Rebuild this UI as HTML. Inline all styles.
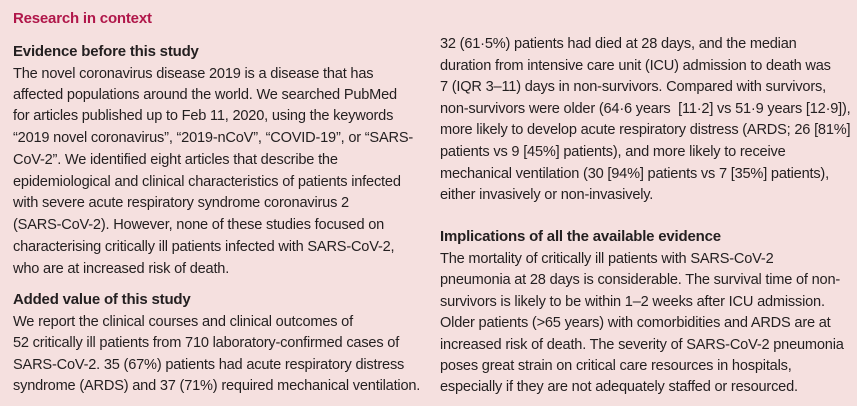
<!DOCTYPE html>
<html><head><meta charset="utf-8"><style>
html,body{margin:0;padding:0}
body{width:857px;height:406px;background:#f5e0df;position:relative;overflow:hidden;font-family:"Liberation Sans",sans-serif;color:#231f20}
.l{position:absolute;white-space:nowrap;font-size:14.6px;letter-spacing:-0.2px;line-height:18px}
.h{font-weight:bold;font-size:15px}
.t{color:#b0174a;font-weight:bold;font-size:15px}
</style></head><body>
<div class="l t" style="left:13px;top:10px">Research in context</div>

<div>
<div class="l h" style="left:13px;top:43px">Evidence before this study</div>
<div class="l" style="left:13px;top:65px">The novel coronavirus disease 2019 is a disease that has</div>
<div class="l" style="left:13px;top:86px">affected populations around the world. We searched PubMed</div>
<div class="l" style="left:13px;top:107px">for articles published up to Feb 11, 2020, using the keywords</div>
<div class="l" style="left:13px;top:129px">“2019 novel coronavirus”, “2019-nCoV”, “COVID-19”, or “SARS-</div>
<div class="l" style="left:13px;top:151px">CoV-2”. We identified eight articles that describe the</div>
<div class="l" style="left:13px;top:173px">epidemiological and clinical characteristics of patients infected</div>
<div class="l" style="left:13px;top:194px">with severe acute respiratory syndrome coronavirus 2</div>
<div class="l" style="left:13px;top:216px">(SARS-CoV-2). However, none of these studies focused on</div>
<div class="l" style="left:13px;top:238px">characterising critically ill patients infected with SARS-CoV-2,</div>
<div class="l" style="left:13px;top:260px">who are at increased risk of death.</div>
<div class="l h" style="left:13px;top:291px">Added value of this study</div>
<div class="l" style="left:13px;top:313px">We report the clinical courses and clinical outcomes of</div>
<div class="l" style="left:13px;top:334px">52 critically ill patients from 710 laboratory-confirmed cases of</div>
<div class="l" style="left:13px;top:356px">SARS-CoV-2. 35 (67%) patients had acute respiratory distress</div>
<div class="l" style="left:13px;top:377px">syndrome (ARDS) and 37 (71%) required mechanical ventilation.</div>
</div>

<div>
<div class="l" style="left:440px;top:35px">32 (61·5%) patients had died at 28 days, and the median</div>
<div class="l" style="left:440px;top:57px">duration from intensive care unit (ICU) admission to death was</div>
<div class="l" style="left:440px;top:78px">7 (IQR 3–11) days in non-survivors. Compared with survivors,</div>
<div class="l" style="left:440px;top:100px">non-survivors were older (64·6 years&nbsp; [11·2] vs 51·9 years [12·9]),</div>
<div class="l" style="left:440px;top:121px">more likely to develop acute respiratory distress (ARDS; 26 [81%]</div>
<div class="l" style="left:440px;top:143px">patients vs 9 [45%] patients), and more likely to receive</div>
<div class="l" style="left:440px;top:165px">mechanical ventilation (30 [94%] patients vs 7 [35%] patients),</div>
<div class="l" style="left:440px;top:186px">either invasively or non-invasively.</div>
<div class="l h" style="left:440px;top:228px">Implications of all the available evidence</div>
<div class="l" style="left:440px;top:250px">The mortality of critically ill patients with SARS-CoV-2</div>
<div class="l" style="left:440px;top:271px">pneumonia at 28 days is considerable. The survival time of non-</div>
<div class="l" style="left:440px;top:293px">survivors is likely to be within 1–2 weeks after ICU admission.</div>
<div class="l" style="left:440px;top:314px">Older patients (&gt;65 years) with comorbidities and ARDS are at</div>
<div class="l" style="left:440px;top:336px">increased risk of death. The severity of SARS-CoV-2 pneumonia</div>
<div class="l" style="left:440px;top:357px">poses great strain on critical care resources in hospitals,</div>
<div class="l" style="left:440px;top:378px">especially if they are not adequately staffed or resourced.</div>
</div>
</body></html>
